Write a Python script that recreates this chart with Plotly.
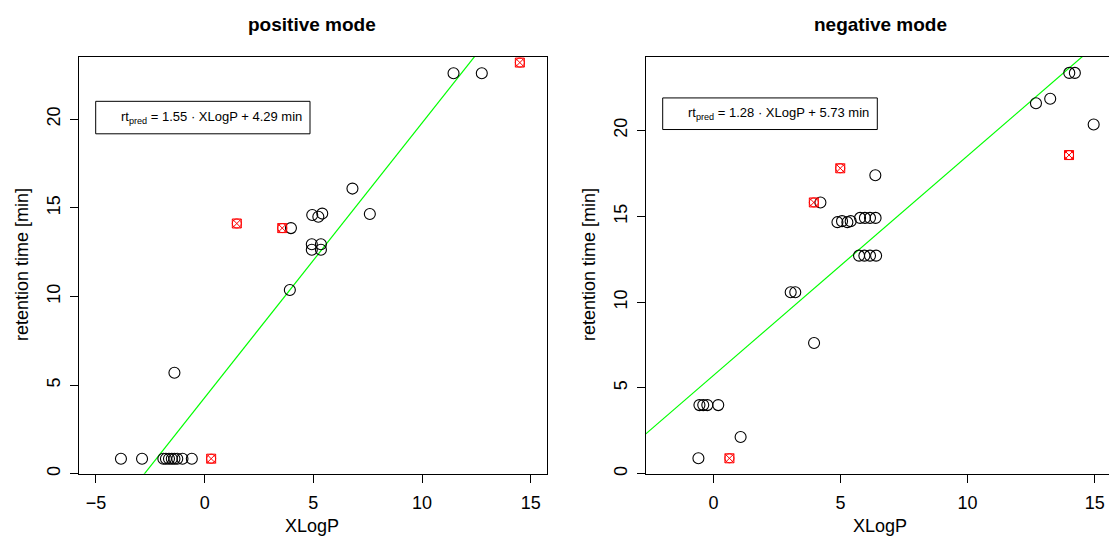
import plotly.graph_objects as go

W, H = 1109, 540

# ---------------- data ----------------
pos_black_x = [-3.85, -2.88, -1.90, -1.78, -1.64, -1.51, -1.39, -1.26, -1.02, -0.59,
               -1.39, 3.92, 4.93, 5.35, 4.93, 5.35, 3.97, 4.95, 5.23, 5.41, 6.80, 7.60, 11.45, 12.75]
pos_black_y = [0.85, 0.85, 0.85, 0.85, 0.85, 0.85, 0.85, 0.85, 0.85, 0.85,
               5.70, 10.37, 12.95, 12.95, 12.64, 12.64, 13.86, 14.60, 14.50, 14.68, 16.09, 14.66, 22.60, 22.60]
pos_red_x = [0.30, 1.48, 3.57, 14.50]
pos_red_y = [0.85, 14.12, 13.86, 23.20]
pos_slope, pos_intercept = 1.55, 4.29

neg_black_x = [6.37, 4.21, 4.88, 5.06, 5.27, 5.40, 5.77, 5.96, 6.16, 6.38,
               5.73, 5.94, 6.16, 6.40, 3.04, 3.22, 3.96, -0.55, -0.40, -0.24, 0.19,
               1.07, -0.59, 14.00, 14.22, 12.69, 13.25, 14.96]
neg_black_y = [17.39, 15.81, 14.66, 14.72, 14.66, 14.72, 14.91, 14.91, 14.91, 14.91,
               12.71, 12.71, 12.71, 12.71, 10.58, 10.58, 7.62, 4.00, 4.00, 4.00, 4.00,
               2.14, 0.90, 23.36, 23.36, 21.59, 21.85, 20.35]
neg_red_x = [4.99, 3.95, 0.63, 13.99]
neg_red_y = [17.80, 15.81, 0.90, 18.57]
neg_slope, neg_intercept = 1.28, 5.73

titles = ["positive mode", "negative mode"]
x_label = "XLogP"
y_label = "retention time [min]"
x_ticks = [-5, 0, 5, 10, 15]
y_ticks = [0, 5, 10, 15, 20]

# ---------------- layout helpers ----------------
FONT = "Liberation Sans, Arial, Helvetica, sans-serif"

def px(x):
    return x / W

def py(y):
    return 1 - y / H

pos_xr = [-5.78, 15.75]
pos_yr = [0, 23.51]
neg_xr = [-2.66, 15.563]
neg_yr = [0, 24.28]

fig = go.Figure()

def add_panel(bx, by, rx, ry, slope, intercept, xaxis, yaxis, xr):
    lx = [xr[0], xr[1]]
    ly = [slope * v + intercept for v in lx]
    fig.add_trace(go.Scatter(x=lx, y=ly, mode="lines", line=dict(color="#00FF00", width=1.2),
                             xaxis=xaxis, yaxis=yaxis, showlegend=False, hoverinfo="skip"))
    fig.add_trace(go.Scatter(x=bx, y=by, mode="markers",
                             marker=dict(symbol="circle-open", size=11, color="black",
                                         line=dict(width=1.1, color="black")),
                             xaxis=xaxis, yaxis=yaxis, showlegend=False, cliponaxis=False))
    fig.add_trace(go.Scatter(x=rx, y=ry, mode="markers",
                             marker=dict(symbol="square-x-open", size=9, color="red",
                                         line=dict(width=1, color="red")),
                             xaxis=xaxis, yaxis=yaxis, showlegend=False, cliponaxis=False))
    fig.add_trace(go.Scatter(x=rx, y=ry, mode="markers",
                             marker=dict(symbol="circle-open", size=9, color="red",
                                         line=dict(width=1, color="red")),
                             xaxis=xaxis, yaxis=yaxis, showlegend=False, cliponaxis=False))

add_panel(pos_black_x, pos_black_y, pos_red_x, pos_red_y, pos_slope, pos_intercept, "x", "y", pos_xr)
add_panel(neg_black_x, neg_black_y, neg_red_x, neg_red_y, neg_slope, neg_intercept, "x2", "y2", neg_xr)

ydom = [py(475.5), py(57.3)]

axis_common = dict(ticks="outside", ticklen=8, tickwidth=1, tickcolor="black",
                   showgrid=False, zeroline=False, showline=True, linecolor="black", linewidth=1,
                   tickfont=dict(family=FONT, size=18, color="black"))

fig.update_layout(
    width=W, height=H,
    margin=dict(l=0, r=0, t=0, b=0),
    paper_bgcolor="white", plot_bgcolor="white",
    font=dict(family=FONT, color="black"),
    xaxis=dict(domain=[px(79), px(547)], range=pos_xr, tickvals=x_ticks, mirror=True,
               anchor="y", ticklabelstandoff=5, **axis_common),
    yaxis=dict(domain=ydom, range=pos_yr, tickvals=y_ticks, tickangle=-90, mirror=True,
               anchor="x", ticklabelstandoff=3, **axis_common),
    xaxis2=dict(domain=[px(645.8), 1.0], range=neg_xr, tickvals=x_ticks, mirror=True,
                anchor="y2", ticklabelstandoff=5, **axis_common),
    yaxis2=dict(domain=ydom, range=neg_yr, tickvals=y_ticks, tickangle=-90, mirror=False,
                anchor="x2", ticklabelstandoff=3, **axis_common),
)

annotations = []
shapes = []
# titles
for t, cx in zip(titles, [312, 880]):
    annotations.append(dict(text="<b>%s</b>" % t, x=px(cx), y=py(25), xref="paper", yref="paper",
                            showarrow=False, xanchor="center", yanchor="middle",
                            font=dict(family=FONT, size=19, color="black")))
# axis labels
for cx in [312, 880]:
    annotations.append(dict(text=x_label, x=px(cx), y=py(528), xref="paper", yref="paper",
                            showarrow=False, xanchor="center", yanchor="middle",
                            font=dict(family=FONT, size=18, color="black")))
for cx in [22, 589]:
    annotations.append(dict(text=y_label, x=px(cx), y=py(266), xref="paper", yref="paper",
                            showarrow=False, xanchor="center", yanchor="middle", textangle=-90,
                            font=dict(family=FONT, size=18, color="black")))
# legend boxes
for (x0, x1, y0, y1), slope, intercept in [((95.7, 310, 101.7, 134.3), pos_slope, pos_intercept),
                                            ((662.7, 877.3, 98.3, 130), neg_slope, neg_intercept)]:
    shapes.append(dict(type="rect", xref="paper", yref="paper", x0=px(x0), x1=px(x1),
                       y0=py(y1), y1=py(y0), line=dict(color="black", width=1), fillcolor="white",
                       layer="above"))
    annotations.append(dict(text="rt<sub>pred</sub> = %.2f · XLogP + %.2f min" % (slope, intercept),
                            x=px(x1 - 6), y=py((y0 + y1) / 2), xref="paper", yref="paper",
                            showarrow=False, xanchor="right", yanchor="middle",
                            font=dict(family=FONT, size=13, color="black")))

fig.update_layout(annotations=annotations, shapes=shapes)
fig.write_html("out.html")
